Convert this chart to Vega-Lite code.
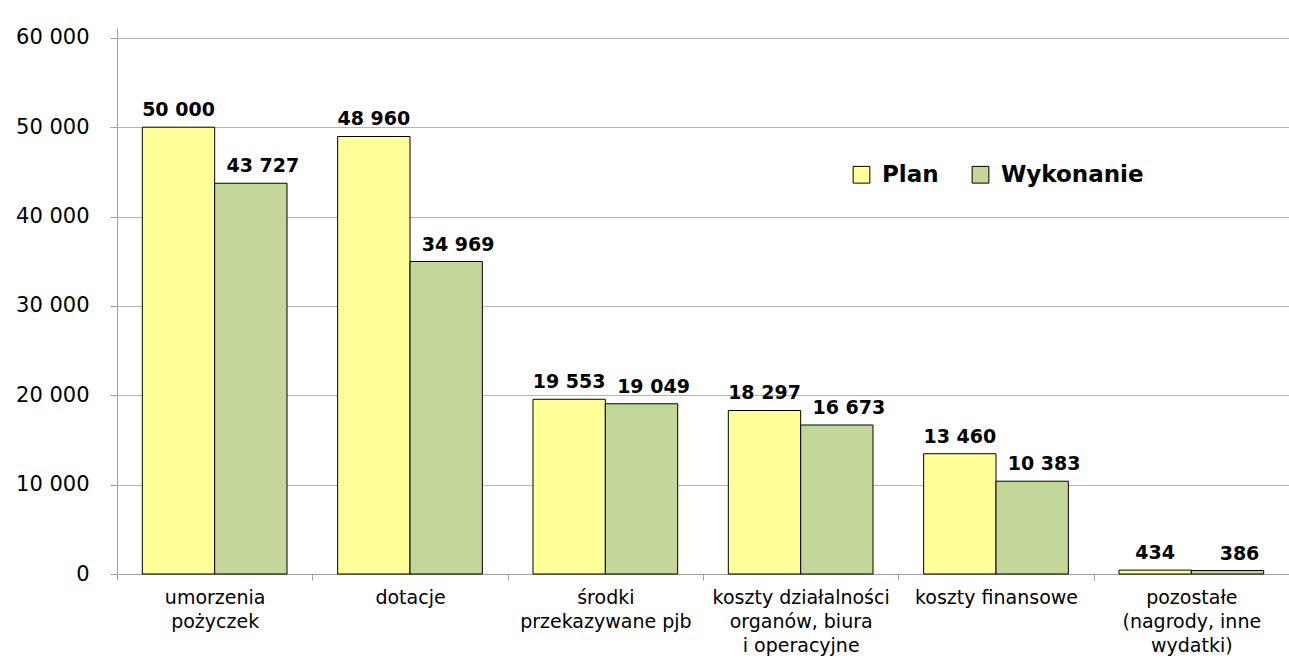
{
  "$schema": "https://vega.github.io/schema/vega-lite/v6.json",
  "width": 1172,
  "height": 546,
  "autosize": {"type": "none"},
  "padding": {"left": 117, "top": 28, "right": 0, "bottom": 94},
  "background": "white",
  "config": {
    "locale": {"number": {"decimal": ",", "thousands": " ", "grouping": [3], "currency": ["", " zł"]}},
    "view": {"stroke": null},
    "font": "DejaVu Sans"
  },
  "data": {
    "values": [
      {"kategoria": "umorzenia|pożyczek", "seria": "Plan", "wartosc": 50000},
      {"kategoria": "umorzenia|pożyczek", "seria": "Wykonanie", "wartosc": 43727},
      {"kategoria": "dotacje", "seria": "Plan", "wartosc": 48960},
      {"kategoria": "dotacje", "seria": "Wykonanie", "wartosc": 34969},
      {"kategoria": "środki|przekazywane pjb", "seria": "Plan", "wartosc": 19553},
      {"kategoria": "środki|przekazywane pjb", "seria": "Wykonanie", "wartosc": 19049},
      {"kategoria": "koszty działalności|organów, biura|i operacyjne", "seria": "Plan", "wartosc": 18297},
      {"kategoria": "koszty działalności|organów, biura|i operacyjne", "seria": "Wykonanie", "wartosc": 16673},
      {"kategoria": "koszty finansowe", "seria": "Plan", "wartosc": 13460},
      {"kategoria": "koszty finansowe", "seria": "Wykonanie", "wartosc": 10383},
      {"kategoria": "pozostałe|(nagrody, inne|wydatki)", "seria": "Plan", "wartosc": 434},
      {"kategoria": "pozostałe|(nagrody, inne|wydatki)", "seria": "Wykonanie", "wartosc": 386}
    ]
  },
  "encoding": {
    "x": {
      "field": "kategoria",
      "type": "nominal",
      "sort": null,
      "scale": {"paddingInner": 0, "paddingOuter": 0},
      "axis": {
        "title": null,
        "labelAngle": 0,
        "labelExpr": "split(datum.label, '|')",
        "labelFont": "DejaVu Sans",
        "labelFontSize": 19,
        "labelColor": "#000000",
        "labelLineHeight": 24,
        "labelPadding": 8,
        "labelBaseline": "top",
        "tickBand": "extent",
        "ticks": true,
        "tickSize": 6,
        "tickColor": "#a0a0a0",
        "domainColor": "#a0a0a0",
        "domainWidth": 1,
        "grid": false
      }
    },
    "xOffset": {
      "field": "seria",
      "type": "nominal",
      "scale": {"paddingOuter": 0.35, "paddingInner": 0}
    },
    "y": {
      "field": "wartosc",
      "type": "quantitative",
      "scale": {"domain": [0, 61100], "nice": false},
      "axis": {
        "title": null,
        "values": [0, 10000, 20000, 30000, 40000, 50000, 60000],
        "format": ",d",
        "labelFont": "DejaVu Sans",
        "labelFontSize": 21,
        "labelColor": "#000000",
        "labelPadding": 21,
        "tickSize": 7,
        "tickColor": "#a0a0a0",
        "domainColor": "#a0a0a0",
        "grid": true,
        "gridColor": "#b4b4b4",
        "gridWidth": 1
      }
    }
  },
  "layer": [
    {
      "mark": {"type": "bar", "stroke": "#000000", "strokeWidth": 1},
      "encoding": {
        "color": {
          "field": "seria",
          "type": "nominal",
          "scale": {"domain": ["Plan", "Wykonanie"], "range": ["#FFFF99", "#C4D79B"]},
          "legend": {
            "title": null,
            "orient": "none",
            "legendX": 733,
            "legendY": 135,
            "direction": "horizontal",
            "symbolType": "square",
            "symbolSize": 280,
            "symbolStrokeColor": "#000000",
            "symbolStrokeWidth": 1,
            "symbolOpacity": 1,
            "labelFont": "DejaVu Sans",
            "labelFontSize": 23,
            "labelFontWeight": "bold",
            "labelColor": "#000000",
            "labelOffset": 9,
            "columnPadding": 30
          }
        }
      }
    },
    {
      "transform": [{"filter": "datum.seria === 'Plan'"}],
      "mark": {"type": "text", "baseline": "alphabetic", "dy": -11, "font": "DejaVu Sans", "fontSize": 19, "fontWeight": "bold", "color": "#000000"},
      "encoding": {
        "text": {"field": "wartosc", "type": "quantitative", "format": ",d"}
      }
    },
    {
      "transform": [{"filter": "datum.seria === 'Wykonanie'"}],
      "mark": {"type": "text", "baseline": "alphabetic", "dy": -11, "dx": 12, "font": "DejaVu Sans", "fontSize": 19, "fontWeight": "bold", "color": "#000000"},
      "encoding": {
        "text": {"field": "wartosc", "type": "quantitative", "format": ",d"}
      }
    }
  ]
}
